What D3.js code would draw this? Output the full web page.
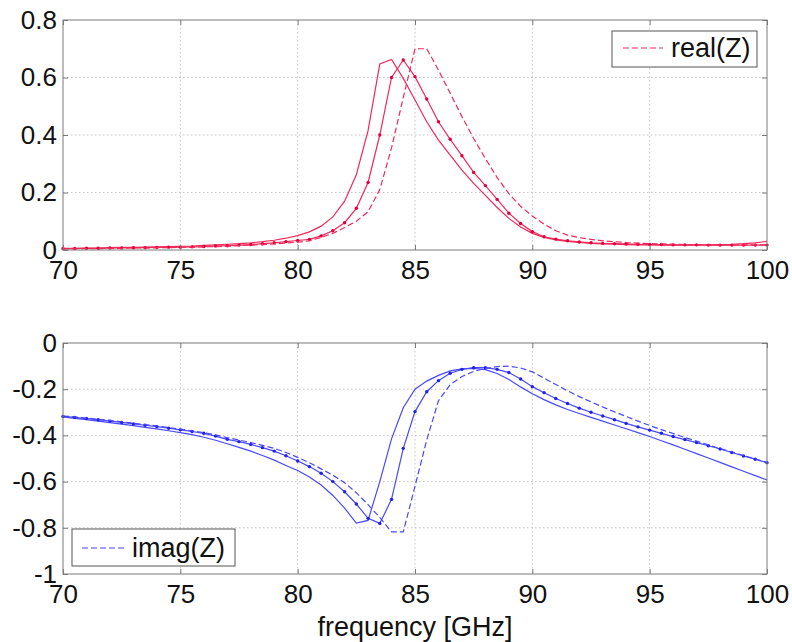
<!DOCTYPE html>
<html>
<head>
<meta charset="utf-8">
<script src="https://cdn.jsdelivr.net/npm/d3@7"></script>
<style>
  html, body { margin: 0; padding: 0; background: #fff; }
  svg { display: block; }
  text { font-family: "Liberation Sans", Arial, sans-serif; fill: #111; }
</style>
</head>
<body>
<div id="chart"></div>
<script>
// ---------------- data ----------------
const freq = [70,70.5,71,71.5,72,72.5,73,73.5,74,74.5,75,75.5,76,76.5,77,77.5,78,78.5,79,79.5,
  80,80.5,81,81.5,82,82.5,83,83.5,84,84.5,85,85.5,86,86.5,87,87.5,88,88.5,89,89.5,
  90,90.5,91,91.5,92,92.5,93,93.5,94,94.5,95,95.5,96,96.5,97,97.5,98,98.5,99,99.5,100];

const realSolid = [.006,.006,.007,.007,.008,.009,.009,.010,.011,.012,.013,.014,.016,.018,.020,.022,.025,.029,.034,.041,
  .050,.063,.083,.115,.170,.262,.415,.647,.663,.597,
  .522,.446,.382,.330,.278,.232,.190,.148,.110,.080,
  .058,.044,.035,.030,.026,.023,.021,.020,.019,.018,
  .018,.017,.017,.017,.017,.018,.019,.020,.022,.025,.030];

const realDot = [.005,.005,.006,.006,.007,.007,.008,.008,.009,.010,.010,.011,.012,.014,.015,.017,.019,.022,.025,.029,
  .033,.037,.049,.067,.095,.145,.235,.400,.600,.661,
  .603,.525,.446,.385,.328,.270,.224,.176,.128,.092,
  .064,.046,.038,.032,.028,.025,.023,.022,.021,.020,
  .019,.019,.018,.018,.018,.017,.017,.017,.017,.017,.017];

const realDash = [.004,.004,.005,.005,.006,.006,.007,.007,.008,.008,.009,.010,.011,.012,.013,.015,.017,.019,.021,.024,
  .027,.032,.044,.058,.078,.100,.133,.210,.355,.530,
  .700,.700,.626,.545,.464,.388,.318,.252,.196,.152,
  .118,.090,.067,.052,.043,.037,.032,.029,.026,.024,
  .022,.021,.020,.019,.019,.018,.018,.018,.018,.018,.018];

const imagSolid = [-.320,-.326,-.332,-.338,-.345,-.351,-.358,-.365,-.372,-.380,-.388,-.397,-.408,-.421,-.436,-.452,-.468,-.487,-.507,-.530,
  -.552,-.580,-.615,-.660,-.715,-.780,-.768,-.600,-.415,-.280,
  -.200,-.165,-.140,-.121,-.112,-.110,-.115,-.132,-.158,-.190,
  -.220,-.245,-.268,-.288,-.305,-.322,-.338,-.355,-.371,-.388,
  -.405,-.423,-.441,-.460,-.479,-.498,-.517,-.536,-.555,-.574,-.593];

const imagDot = [-.318,-.322,-.327,-.332,-.338,-.344,-.350,-.356,-.362,-.369,-.376,-.383,-.391,-.403,-.417,-.427,-.439,-.453,-.468,-.488,
  -.511,-.535,-.564,-.600,-.644,-.697,-.759,-.781,-.677,-.456,
  -.297,-.211,-.163,-.131,-.114,-.107,-.107,-.114,-.128,-.156,
  -.189,-.215,-.240,-.262,-.282,-.300,-.316,-.332,-.348,-.363,
  -.377,-.391,-.405,-.418,-.431,-.445,-.459,-.474,-.489,-.503,-.518];

const imagDash = [-.316,-.320,-.325,-.330,-.335,-.341,-.347,-.353,-.359,-.366,-.373,-.380,-.388,-.398,-.410,-.420,-.431,-.443,-.456,-.474,
  -.495,-.518,-.545,-.572,-.605,-.648,-.700,-.755,-.818,-.818,
  -.620,-.420,-.250,-.180,-.145,-.123,-.110,-.102,-.100,-.108,
  -.125,-.152,-.180,-.207,-.232,-.255,-.277,-.298,-.318,-.338,
  -.357,-.375,-.392,-.409,-.425,-.441,-.457,-.472,-.487,-.502,-.517];

const xTicks = [70,75,80,85,90,95,100];
const yTopTicks = [0,0.2,0.4,0.6,0.8];
const yBotTicks = [-1,-0.8,-0.6,-0.4,-0.2,0];
const xLabel = "frequency [GHz]";
const legendTop = "real(Z)";
const legendBot = "imag(Z)";

// ---------------- layout ----------------
const W = 792, H = 642;
const L = 63, R = 767;
const FS = 26;
const svg = d3.select("#chart").append("svg").attr("width", W).attr("height", H);

const x = d3.scaleLinear().domain([70,100]).range([L,R]);
const yTop = d3.scaleLinear().domain([0,0.8]).range([250,20]);
const yBot = d3.scaleLinear().domain([-1,0]).range([574,343]);

const fmt = d => String(+(+d).toFixed(1));
const gridCol = "#c4c4c4", axisCol = "#7a7a7a";

function panel(y, yTicks) {
  const g = svg.append("g");
  const [y0, y1] = y.range(); // bottom, top
  g.selectAll(".gx").data(xTicks.filter(t => t !== 70 && t !== 100)).join("line")
    .attr("x1", d => x(d)).attr("x2", d => x(d)).attr("y1", y1).attr("y2", y0)
    .attr("stroke", gridCol).attr("stroke-width", 1).attr("stroke-dasharray", "1.5,2.5");
  const yd = y.domain();
  g.selectAll(".gy").data(yTicks.filter(t => t !== yd[0] && t !== yd[1])).join("line")
    .attr("x1", L).attr("x2", R).attr("y1", d => y(d)).attr("y2", d => y(d))
    .attr("stroke", gridCol).attr("stroke-width", 1).attr("stroke-dasharray", "1.5,2.5");
  return g;
}

function axes(y, yTicks) {
  const [y0, y1] = y.range();
  const g = svg.append("g");
  g.append("rect").attr("x", L).attr("y", y1).attr("width", R - L).attr("height", y0 - y1)
    .attr("fill", "none").attr("stroke", axisCol).attr("stroke-width", 1);
  const ab = g.append("g").attr("transform", `translate(0,${y0})`)
    .call(d3.axisBottom(x).tickValues(xTicks).tickSize(-5).tickPadding(11).tickFormat(fmt));
  const at = g.append("g").attr("transform", `translate(0,${y1})`)
    .call(d3.axisTop(x).tickValues(xTicks).tickSize(-5).tickFormat(""));
  const al = g.append("g").attr("transform", `translate(${L},0)`)
    .call(d3.axisLeft(y).tickValues(yTicks).tickSize(-5).tickPadding(6).tickFormat(fmt));
  const ar = g.append("g").attr("transform", `translate(${R},0)`)
    .call(d3.axisRight(y).tickValues(yTicks).tickSize(-5).tickFormat(""));
  [ab, at, al, ar].forEach(a => {
    a.select(".domain").remove();
    a.selectAll("line").attr("stroke", axisCol);
    a.selectAll("text").attr("font-size", FS).attr("font-family", '"Liberation Sans", Arial, sans-serif').attr("fill", "#111");
  });
}

function series(y, vals, color, style, markerColor) {
  const line = d3.line().x((d, i) => x(freq[i])).y(d => y(d));
  const p = svg.append("path").datum(vals).attr("d", line)
    .attr("fill", "none").attr("stroke", color).attr("stroke-width", 1.2);
  if (style === "dash") p.attr("stroke-dasharray", "6,3");
  if (style === "dot") {
    svg.append("g").selectAll("circle").data(vals).join("circle")
      .attr("cx", (d, i) => x(freq[i])).attr("cy", d => y(d)).attr("r", 1.7)
      .attr("fill", markerColor);
  }
}

// top panel
panel(yTop, yTopTicks);
const red = "#f2285a", redM = "#e0003c";
series(yTop, realSolid, red, "solid");
series(yTop, realDot, red, "dot", redM);
series(yTop, realDash, red, "dash");
axes(yTop, yTopTicks);

// bottom panel
panel(yBot, yBotTicks);
const blue = "#4848ff", blueM = "#2020e8";
series(yBot, imagSolid, blue, "solid");
series(yBot, imagDot, blue, "dot", blueM);
series(yBot, imagDash, blue, "dash");
axes(yBot, yBotTicks);

// legends
function legend(bx, by, bw, bh, lx1, lx2, ly, tx, label, color) {
  const g = svg.append("g");
  g.append("rect").attr("x", bx).attr("y", by).attr("width", bw).attr("height", bh)
    .attr("fill", "#fff").attr("stroke", "#555").attr("stroke-width", 1);
  g.append("line").attr("x1", lx1).attr("x2", lx2).attr("y1", ly).attr("y2", ly)
    .attr("stroke", color).attr("stroke-width", 1.2).attr("stroke-dasharray", "6,3");
  g.append("text").attr("x", tx).attr("y", ly).attr("dy", "0.35em")
    .attr("font-size", 27).text(label);
}
legend(612, 31, 145, 36, 623, 663, 48, 671, legendTop, red);
legend(72, 529, 163, 37, 82, 124, 548, 132, legendBot, blue);

// x label
svg.append("text").attr("x", (L + R) / 2).attr("y", 627).attr("dy", "0.35em")
  .attr("text-anchor", "middle").attr("font-size", 27).text(xLabel);
</script>
</body>
</html>
